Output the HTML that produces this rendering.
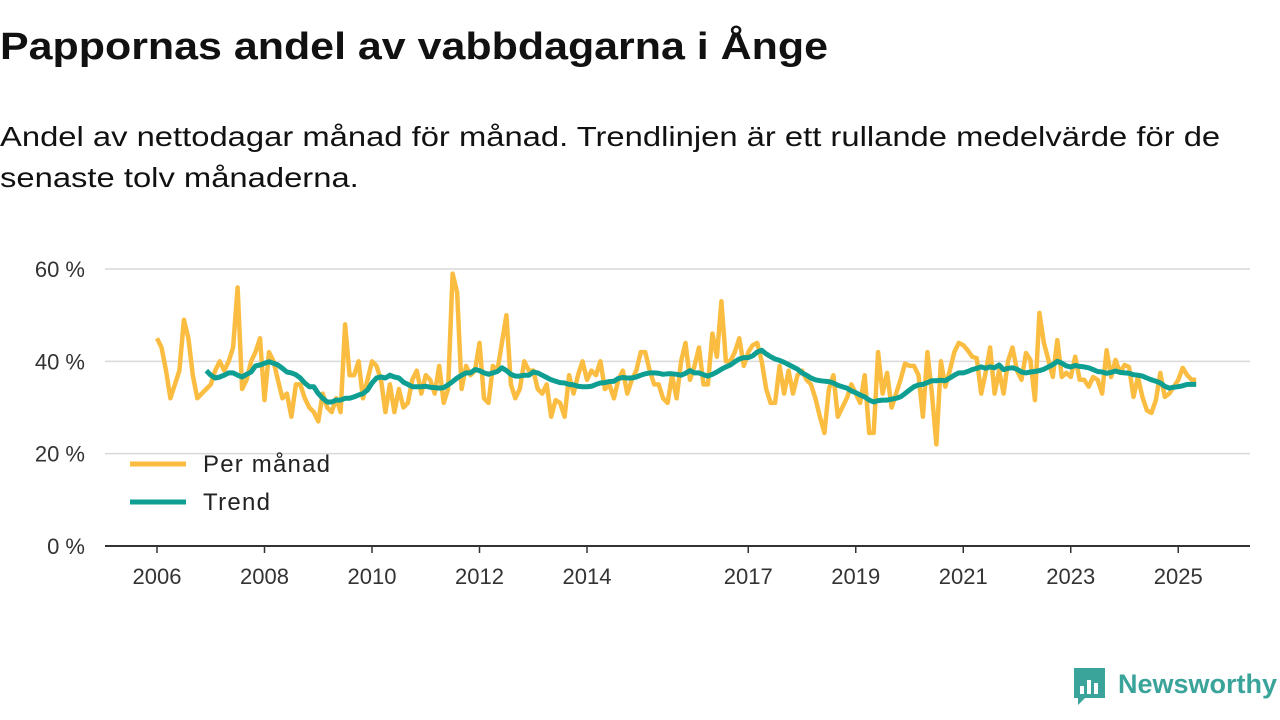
<!DOCTYPE html>
<html><head><meta charset="utf-8">
<style>
body{margin:0;width:1280px;height:720px;background:#fff;font-family:"Liberation Sans",sans-serif;overflow:hidden;position:relative}
h1{position:absolute;left:0;top:26px;margin:0;font-size:38px;font-weight:bold;color:#111;transform:scaleX(1.13);transform-origin:left top;white-space:nowrap;z-index:2}
.sub{position:absolute;left:0;top:116px;margin:0;font-size:28px;line-height:41px;color:#111;transform:scaleX(1.17);transform-origin:left top;white-space:nowrap;z-index:2;overflow:visible}
svg{position:absolute;left:0;top:0}
</style></head><body>
<svg id="chart" width="1280" height="720"></svg>
<h1>Pappornas andel av vabbdagarna i Ånge</h1>
<p class="sub">Andel av nettodagar månad för månad. Trendlinjen är ett rullande medelvärde för de<br>senaste tolv månaderna.</p>
<script>
const monthly = [
45,43,38,32,35,38,49,45,37,32,33,34,
35,38,40,38,40,43,56,34,36,40,42,45,
31.6,42,40,36,32,33,28,35,35,32,30,29,
27,33,30,29,32,29,48,37,37,40,32,36,
40,39,36,29,35,29,34,30,31,36,38,33,
37,36,33,39,31,34,59,55,34,39,37,38,
44,32,31,39,38,44,50,35,32,34,40,38,
38,34,33,35,28,31.6,31,28,37,33,37,40,
36,38,37,40,34,35,32,36,38,33,36,38,
42,42,38,35,35,32,31,37,32,40,44,36,
39,43,35,35,46,41,53,40,40,42,45,39,
42,43.5,44,40,34,31,31,39,33,38,33,37,
38,36,35,32,28,24.5,34,37,28,30,32,35,
33,31,37,24.5,24.5,42,33,37.5,30,33,36,39.5,
39,39,37,28,42,33,22,40,34.5,38,42,44,
43.5,42.4,41,40.7,33,37.5,43,33,38,33,40,43,
38,36,41.8,40.3,31.6,50.5,44,40.3,36.6,44.6,36.6,37.5,
36.6,41,36,36,34.5,36.6,36,33,42.4,36.6,40.3,37.5,
39.2,38.8,32.3,36.6,32.3,29.4,28.8,31.6,37.5,32.3,33,34.5,
36,38.6,37,36,36
];
const trend = [
null,null,null,null,null,null,null,null,null,null,null,38,
37,36.4,36.6,37,37.5,37.5,37,36.6,37.2,37.7,39,39.2,
39.6,39.9,39.6,39.2,38.5,37.7,37.5,37.1,36.4,35.3,34.5,34.5,
33,32,31.2,31.2,31.6,31.6,32,32,32.3,32.7,33,33.8,
35.3,36.4,36.6,36.4,37,36.6,36.4,35.5,35,34.5,34.5,34.5,
34.6,34.4,34.3,34.2,34.3,34.9,35.6,36.4,37,37.5,37.5,38.2,
38,37.5,37.2,37.5,37.8,38.6,38,37.2,36.8,36.8,37,37,
37.7,37.5,37,36.5,36,35.7,35.4,35.3,35,34.9,34.6,34.5,
34.5,34.6,35,35.3,35.4,35.6,35.7,36.3,36.5,36.4,36.4,36.6,
37,37.3,37.5,37.5,37.4,37.2,37.3,37.3,37.2,37,37.4,38,
37.5,37.5,37.1,36.8,37.2,37.7,38.3,38.8,39.2,39.9,40.5,40.8,
40.8,41.2,42,42.4,41.6,41,40.5,40.2,39.8,39.3,38.8,38.3,
37.5,37,36.4,36,35.8,35.7,35.6,35.3,34.8,34.5,34.2,33.6,
33.2,32.7,32.3,31.6,31.2,31.5,31.6,31.6,31.8,32,32.3,33,
33.8,34.5,34.9,35,35.4,35.8,35.8,35.9,35.8,36.4,37,37.5,
37.5,37.8,38.2,38.5,38.8,38.5,38.8,38.6,39.2,38.2,38.5,38.6,
38.3,37.7,37.5,37.7,37.8,38,38.3,38.8,39.3,40,39.6,39,
38.8,39.1,38.9,38.8,38.6,38.2,37.8,37.7,37.4,37.6,37.9,37.6,
37.5,37.4,37.1,37,36.8,36.4,36,35.7,35.3,34.6,34.2,34.4,
34.5,34.7,35,35,35
];
const yTicks = [0,20,40,60];
const xTickYears = [2006,2008,2010,2012,2014,2017,2019,2021,2023,2025];

const NS='http://www.w3.org/2000/svg';
const svg=document.getElementById('chart');
const x0=157, pxPerYear=53.75;
const xScale = m => x0 + m*pxPerYear/12;
const yScale = v => 546 - v*(546-269)/60;
function mk(tag, attrs){const e=document.createElementNS(NS,tag);for(const k in attrs)e.setAttribute(k,attrs[k]);svg.appendChild(e);return e;}

yTicks.forEach(t=>{
  const y=yScale(t);
  if(t>0){const g=mk('line',{x1:105,x2:1250,y1:y,y2:y,stroke:'#d9d9d9','stroke-width':1.5});
  
  }
  const l=mk('text',{x:85,y:y+8,'text-anchor':'end','font-size':22,fill:'#333','font-family':'Liberation Sans, sans-serif'});
  l.textContent=t+' %';
  
  
});
const ax=mk('line',{x1:105,x2:1250,y1:546,y2:546,stroke:'#333','stroke-width':2});


xTickYears.forEach(yr=>{
  const x=xScale((yr-2006)*12);
  const tk=mk('line',{x1:x,x2:x,y1:546,y2:553,stroke:'#333','stroke-width':1.5});
  
  
  const l=mk('text',{x:x,y:584,'text-anchor':'middle','font-size':22,fill:'#333','font-family':'Liberation Sans, sans-serif'});
  l.textContent=yr;
  
  
});
function path(arr){let d='',pen=false;arr.forEach((v,i)=>{if(v==null){pen=false;return;}d+=(pen?'L':'M')+xScale(i).toFixed(1)+','+yScale(v).toFixed(1);pen=true;});return d;}
const p1=mk('path',{d:path(monthly),fill:'none',stroke:'#fbbd41','stroke-width':4.5,'stroke-linejoin':'round'});


const p2=mk('path',{d:path(trend),fill:'none',stroke:'#0e9e92','stroke-width':5,'stroke-linejoin':'round'});



[['Per månad','#fbbd41',464],['Trend','#0e9e92',502]].forEach(([n,c,y])=>{
  const l=mk('line',{x1:130,x2:186,y1:y,y2:y,stroke:c,'stroke-width':5});
  
  
  const t=mk('text',{x:203,y:y+8,'font-size':24,fill:'#222','font-family':'Liberation Sans, sans-serif',textLength:n.length>6?127:67});
  t.textContent=n;
  
  
});
</script>
<svg width="1280" height="720" style="pointer-events:none">
<path d="M1074,668 h31 v30 h-20 l-7,7 v-7 h-4 z" fill="#3aa39a"/>
<rect x="1080" y="686" width="4" height="8" fill="#fff"/>
<rect x="1087" y="680" width="4" height="14" fill="#fff"/>
<rect x="1094" y="683" width="4" height="11" fill="#fff"/>
<text x="1118" y="693" font-size="27" font-weight="bold" fill="#3aa39a" font-family="Liberation Sans, sans-serif">Newsworthy</text>
</svg>
</body></html>
